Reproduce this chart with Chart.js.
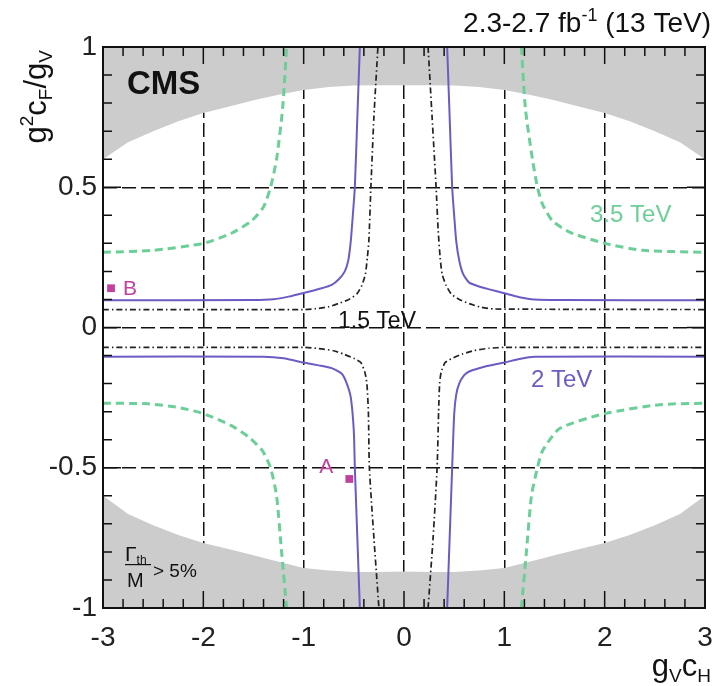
<!DOCTYPE html>
<html>
<head>
<meta charset="utf-8">
<script src="https://cdn.jsdelivr.net/npm/chart.js@4/dist/chart.umd.min.js"></script>
<style>
  html, body { margin: 0; padding: 0; background: #fff; }
  #wrap { width: 713px; height: 686px; position: relative; }
</style>
</head>
<body>
<div id="wrap"><canvas id="c" width="713" height="686"></canvas></div>
<script>
// axis ticks
const xTicks = [-3, -2, -1, 0, 1, 2, 3];
const yTicks = [-1, -0.5, 0, 0.5, 1];

// boundary of the Gamma_th/M > 5% region (shaded above / below)
const bandX      = [-3, -2.75, -2.5, -2.25, -2, -1.75, -1.5, -1.25, -1, -0.75, -0.5, -0.25, 0, 0.25, 0.5, 0.75, 1, 1.25, 1.5, 1.75, 2, 2.25, 2.5, 2.75, 3];
const bandTop    = [0.60, 0.66, 0.70, 0.735, 0.765, 0.787, 0.81, 0.83, 0.847, 0.857, 0.863, 0.864, 0.864, 0.864, 0.863, 0.857, 0.847, 0.83, 0.81, 0.787, 0.765, 0.735, 0.70, 0.66, 0.60];
const bandBottom = [-0.60, -0.665, -0.705, -0.74, -0.768, -0.79, -0.812, -0.835, -0.857, -0.866, -0.872, -0.872, -0.870, -0.872, -0.872, -0.866, -0.857, -0.835, -0.812, -0.79, -0.768, -0.74, -0.705, -0.665, -0.60];

// 1.5 TeV contour branches [gV cH, g^2 cF / gV]
const tev15UpLeft  = [[-3, 0.064], [-1.0, 0.064], [-0.88, 0.067], [-0.75, 0.074], [-0.65, 0.086], [-0.55, 0.10], [-0.47, 0.12], [-0.42, 0.15], [-0.385, 0.19], [-0.365, 0.25], [-0.35, 0.31], [-0.33, 0.5], [-0.30, 0.75], [-0.26, 1.0]];
const tev15UpRight = [[0.24, 1.0], [0.28, 0.75], [0.32, 0.5], [0.34, 0.35], [0.36, 0.25], [0.38, 0.19], [0.42, 0.15], [0.47, 0.12], [0.55, 0.10], [0.65, 0.085], [0.77, 0.072], [0.9, 0.066], [3, 0.064]];
const tev15LoLeft  = [[-3, -0.071], [-1.0, -0.071], [-0.85, -0.075], [-0.7, -0.083], [-0.6, -0.095], [-0.5, -0.11], [-0.43, -0.125], [-0.39, -0.16], [-0.37, -0.2], [-0.355, -0.3], [-0.345, -0.5], [-0.30, -0.75], [-0.25, -1.0]];
const tev15LoRight = [[0.24, -1.0], [0.29, -0.75], [0.33, -0.5], [0.345, -0.3], [0.355, -0.2], [0.37, -0.16], [0.41, -0.125], [0.48, -0.11], [0.58, -0.095], [0.7, -0.082], [0.85, -0.074], [1.0, -0.071], [3, -0.071]];

// 2 TeV contour branches
const tev2UpLeft  = [[-3, 0.097], [-1.5, 0.098], [-1.3, 0.101], [-1.15, 0.11], [-1.0, 0.123], [-0.82, 0.14], [-0.72, 0.152], [-0.65, 0.172], [-0.59, 0.2], [-0.555, 0.24], [-0.53, 0.31], [-0.51, 0.40], [-0.49, 0.5], [-0.465, 0.75], [-0.44, 1.0]];
const tev2UpRight = [[0.43, 1.0], [0.455, 0.75], [0.48, 0.5], [0.50, 0.40], [0.52, 0.31], [0.55, 0.24], [0.59, 0.19], [0.65, 0.16], [0.75, 0.146], [0.85, 0.136], [1.0, 0.122], [1.15, 0.108], [1.3, 0.100], [1.6, 0.098], [3, 0.097]];
const tev2LoLeft  = [[-3, -0.104], [-1.4, -0.104], [-1.2, -0.11], [-1.0, -0.125], [-0.85, -0.135], [-0.72, -0.145], [-0.62, -0.165], [-0.57, -0.2], [-0.53, -0.25], [-0.50, -0.37], [-0.49, -0.5], [-0.465, -0.75], [-0.44, -1.0]];
const tev2LoRight = [[0.43, -1.0], [0.455, -0.75], [0.48, -0.5], [0.50, -0.31], [0.52, -0.24], [0.55, -0.2], [0.6, -0.17], [0.65, -0.157], [0.8, -0.14], [1.0, -0.125], [1.15, -0.112], [1.3, -0.104], [3, -0.104]];

// 3.5 TeV contour branches
const tev35UpLeft  = [[-3, 0.268], [-2.5, 0.275], [-2.0, 0.30], [-1.72, 0.336], [-1.52, 0.38], [-1.4, 0.43], [-1.33, 0.5], [-1.27, 0.6], [-1.21, 0.78], [-1.17, 1.0]];
const tev35UpRight = [[1.17, 1.0], [1.21, 0.78], [1.28, 0.6], [1.33, 0.5], [1.38, 0.44], [1.48, 0.38], [1.65, 0.34], [2.0, 0.30], [2.38, 0.275], [3, 0.268]];
const tev35LoLeft  = [[-3, -0.27], [-2.55, -0.272], [-2.25, -0.285], [-2.0, -0.307], [-1.72, -0.35], [-1.55, -0.39], [-1.41, -0.44], [-1.33, -0.5], [-1.27, -0.6], [-1.22, -0.8], [-1.17, -1.0]];
const tev35LoRight = [[1.17, -1.0], [1.22, -0.8], [1.27, -0.6], [1.33, -0.5], [1.38, -0.44], [1.55, -0.36], [2.0, -0.307], [2.55, -0.275], [3, -0.27]];

// benchmark points
const benchLabels = ['A', 'B'];
const benchX = [-0.545, -2.92];
const benchY = [-0.54, 0.14];

const BLUE = '#6a5cc4';
const GREEN = '#6ccf98';
const MAGENTA = '#c2409e';
const GREY = '#cbcccb';
const FONT = '"Liberation Sans", Arial, Helvetica, sans-serif';

const pts = arr => arr.map(([x, y]) => ({ x, y }));
const band = ys => bandX.map((x, i) => ({ x, y: ys[i] }));

function curve(data, color, width, dash) {
  return { data: pts(data), showLine: true, pointRadius: 0, borderColor: color, borderWidth: width,
    borderDash: dash, fill: false, tension: 0.2, order: 1 };
}

// draws a run of text pieces (sub/superscripts) starting at x
function drawRuns(ctx, runs, x, y) {
  runs.forEach(r => {
    ctx.font = (r.bold ? 'bold ' : '') + r.size + 'px ' + FONT;
    ctx.fillText(r.t, x, y + (r.dy || 0));
    x += ctx.measureText(r.t).width + (r.gap || 0);
  });
  return x;
}
function runsWidth(ctx, runs) {
  let w = 0;
  runs.forEach(r => { ctx.font = (r.bold ? 'bold ' : '') + r.size + 'px ' + FONT; w += ctx.measureText(r.t).width + (r.gap || 0); });
  return w;
}

const decorations = {
  id: 'decorations',
  afterDatasetsDraw(chart) {
    const { ctx, chartArea: a, scales: { x, y } } = chart;
    ctx.save();
    ctx.strokeStyle = '#111';
    ctx.lineWidth = 2;
    ctx.strokeRect(a.left, a.top, a.right - a.left, a.bottom - a.top);
    // inward ticks on all four sides
    ctx.lineWidth = 1.5;
    ctx.beginPath();
    for (let i = 0; i <= 30; i++) {
      const v = -3 + i * 0.2;
      const px = x.getPixelForValue(v);
      const len = i % 5 === 0 ? 17 : 9;
      ctx.moveTo(px, a.bottom); ctx.lineTo(px, a.bottom - len);
      ctx.moveTo(px, a.top); ctx.lineTo(px, a.top + len);
    }
    for (let i = 0; i <= 20; i++) {
      const v = -1 + i * 0.1;
      const py = y.getPixelForValue(v);
      const len = i % 5 === 0 ? 18 : 9;
      ctx.moveTo(a.left, py); ctx.lineTo(a.left + len, py);
      ctx.moveTo(a.right, py); ctx.lineTo(a.right - len, py);
    }
    ctx.stroke();
    ctx.restore();
  },
  afterDraw(chart) {
    const { ctx, scales: { x, y } } = chart;
    ctx.save();
    ctx.textBaseline = 'alphabetic';
    ctx.textAlign = 'left';

    // experiment label
    ctx.fillStyle = '#111';
    ctx.font = 'bold 33px ' + FONT;
    ctx.fillText('CMS', 127, 94);

    // luminosity / energy header
    const head = [{ t: '2.3-2.7 fb', size: 28 }, { t: '-1', size: 18, dy: -11 }, { t: ' (13 TeV)', size: 28 }];
    drawRuns(ctx, head, 711 - runsWidth(ctx, head), 32);

    // contour labels
    ctx.font = '24px ' + FONT;
    ctx.fillStyle = GREEN;
    ctx.fillText('3.5 TeV', 590, 222);
    ctx.fillStyle = BLUE;
    ctx.fillText('2 TeV', 531, 387);
    ctx.fillStyle = '#111';
    ctx.font = '23px ' + FONT;
    ctx.fillText('1.5 TeV', 338, 328);

    // benchmark labels
    ctx.fillStyle = MAGENTA;
    ctx.font = '21px ' + FONT;
    const bx = benchX.map(v => x.getPixelForValue(v));
    const by = benchY.map(v => y.getPixelForValue(v));
    ctx.fillText(benchLabels[0], bx[0] - 30, by[0] - 6);
    ctx.fillText(benchLabels[1], bx[1] + 12, by[1] + 7);

    // width condition
    ctx.fillStyle = '#111';
    drawRuns(ctx, [{ t: '\u0393', size: 21 }, { t: 'th', size: 12, dy: 3 }], 125, 561);
    ctx.fillRect(125, 564, 26, 1.2);
    drawRuns(ctx, [{ t: 'M', size: 20 }], 127, 587);
    drawRuns(ctx, [{ t: '> 5%', size: 19 }], 153, 577);

    // axis titles
    const yt = [{ t: 'g', size: 31 }, { t: '2', size: 19, dy: -13 }, { t: 'c', size: 31 }, { t: 'F', size: 19, dy: 6 },
                { t: '/g', size: 31 }, { t: 'V', size: 19, dy: 6 }];
    ctx.save();
    ctx.translate(46, 50);
    ctx.rotate(-Math.PI / 2);
    drawRuns(ctx, yt, -runsWidth(ctx, yt), 0);
    ctx.restore();

    const xt = [{ t: 'g', size: 31 }, { t: 'V', size: 19, dy: 6 }, { t: 'c', size: 31 }, { t: 'H', size: 19, dy: 6 }];
    drawRuns(ctx, xt, 711 - runsWidth(ctx, xt), 676);
    ctx.restore();
  }
};

const gridCommon = { color: '#111', lineWidth: 1.5, drawTicks: false };
const tickFont = { family: FONT, size: 28 };

new Chart(document.getElementById('c'), {
  type: 'scatter',
  data: {
    datasets: [
      { data: band(bandTop), showLine: true, pointRadius: 0, borderWidth: 0, borderColor: GREY, backgroundColor: GREY, fill: 'end', order: 5 },
      { data: band(bandBottom), showLine: true, pointRadius: 0, borderWidth: 0, borderColor: GREY, backgroundColor: GREY, fill: 'start', order: 5 },
      curve(tev35UpLeft, GREEN, 3, [8, 5]),
      curve(tev35UpRight, GREEN, 3, [8, 5]),
      curve(tev35LoLeft, GREEN, 3, [8, 5]),
      curve(tev35LoRight, GREEN, 3, [8, 5]),
      curve(tev15UpLeft, '#222', 1.7, [6, 3, 1.5, 3]),
      curve(tev15UpRight, '#222', 1.7, [6, 3, 1.5, 3]),
      curve(tev15LoLeft, '#222', 1.7, [6, 3, 1.5, 3]),
      curve(tev15LoRight, '#222', 1.7, [6, 3, 1.5, 3]),
      curve(tev2UpLeft, BLUE, 2, []),
      curve(tev2UpRight, BLUE, 2, []),
      curve(tev2LoLeft, BLUE, 2, []),
      curve(tev2LoRight, BLUE, 2, []),
      { data: benchX.map((v, i) => ({ x: v, y: benchY[i] })), showLine: false, pointStyle: 'rect',
        pointRadius: 5.5, backgroundColor: MAGENTA, borderColor: MAGENTA, borderWidth: 0, order: 0 }
    ]
  },
  options: {
    responsive: false,
    animation: false,
    layout: { padding: { left: 0, right: 8, top: 47, bottom: 0 } },
    plugins: { legend: { display: false }, tooltip: { enabled: false } },
    scales: {
      x: {
        type: 'linear', min: -3, max: 3,
        afterBuildTicks: s => { s.ticks = xTicks.map(v => ({ value: v })); },
        afterFit: s => { s.height = 78; s.paddingLeft = 0; s.paddingRight = 0; },
        grid: gridCommon,
        border: { display: false, dash: [14, 5] },
        ticks: { font: tickFont, color: '#222', padding: 13, maxRotation: 0, callback: v => String(v) }
      },
      y: {
        type: 'linear', min: -1, max: 1,
        afterBuildTicks: s => { s.ticks = yTicks.map(v => ({ value: v })); },
        afterFit: s => { s.width = 103; s.paddingTop = 0; s.paddingBottom = 0; },
        grid: gridCommon,
        border: { display: false, dash: [14, 5] },
        ticks: { font: tickFont, color: '#222', padding: 6, callback: v => String(v) }
      }
    }
  },
  plugins: [decorations]
});
</script>
</body>
</html>
